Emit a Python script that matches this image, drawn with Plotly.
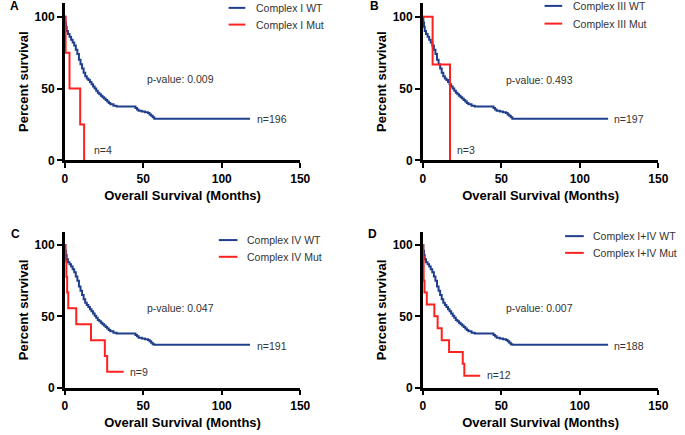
import plotly.graph_objects as go

W, H = 685, 435

# ---------------- data ----------------
panel_letters = ["A", "B", "C", "D"]
wt_names = ["Complex I WT", "Complex III WT", "Complex IV WT", "Complex I+IV WT"]
mut_names = ["Complex I Mut", "Complex III Mut", "Complex IV Mut", "Complex I+IV Mut"]
p_values = ["p-value: 0.009", "p-value: 0.493", "p-value: 0.047", "p-value: 0.007"]
n_wt = ["n=196", "n=197", "n=191", "n=188"]
n_mut = ["n=4", "n=3", "n=9", "n=12"]

wt_t = [0, 0.3, 0.7, 1.2, 2, 3, 4, 5, 6, 7, 8, 9, 10, 11, 12, 13, 14, 15, 16, 17,
        18, 19, 20, 21, 22, 23, 24, 25, 26, 27, 28, 29, 31, 33, 44, 45, 46, 47,
        49, 51, 53, 54, 55, 56, 57, 118]
wt_s_a = [100, 96, 93, 90, 88, 86, 84, 82, 80, 77, 74, 70, 67, 64, 61, 58.5, 57, 56,
          54.5, 53, 51.5, 50, 48.5, 47, 46, 45, 44, 43, 42, 41, 40, 39, 38, 37.5, 37.5,
          36.5, 35.5, 34.5, 34, 33.5, 33, 32, 31, 30, 29, 29]
wt_s_b = [100, 96, 93, 90, 88, 86, 84, 82, 80, 77, 74, 70, 67, 64, 61, 58.5, 57, 56,
          54.5, 53, 51.5, 50, 48.5, 47, 46, 45, 44, 43, 42, 41, 40, 39, 38, 37.5, 37.5,
          36.5, 35.5, 34.5, 34, 33.5, 33, 32, 31, 30, 29, 29]
wt_s_c = [100, 96, 93, 90, 88, 86.5, 85, 83, 81, 78, 75, 71, 68, 65, 62, 59.5, 58, 56.5,
          55, 53.5, 52, 50.5, 49, 47.5, 46.5, 45.5, 44.5, 43.5, 42.5, 41.5, 40.5, 39.5,
          38.5, 38, 38, 37, 36, 35, 34.5, 34, 33.5, 32.5, 31.5, 30.5, 30, 30]
wt_s_d = [100, 96, 93, 90, 88, 86.5, 85, 83, 81, 78, 75, 71, 68, 65, 62, 59.5, 58, 56.5,
          55, 53.5, 52, 50.5, 49, 47.5, 46.5, 45.5, 44.5, 43.5, 42.5, 41.5, 40.5, 39.5,
          38.5, 38, 38, 37, 36, 35, 34.5, 34, 33.5, 32.5, 31.5, 30.5, 30, 30]
wt_s = [wt_s_a, wt_s_b, wt_s_c, wt_s_d]

mut_t_a = [0, 0.5, 3, 9.8, 12.3]
mut_s_a = [100, 75, 50, 25, 0]
mut_t_b = [0, 6.2, 17.3]
mut_s_b = [100, 66.7, 0]
mut_t_c = [0, 0.4, 1.0, 1.5, 2.2, 7.3, 16.7, 25.5, 27, 37.5]
mut_s_c = [100, 88.9, 77.8, 66.7, 55.6, 44.4, 33.3, 22.2, 11.1, 11.1]
mut_t_d = [0, 0.2, 0.5, 1.0, 2.5, 7.3, 9.4, 12, 16.7, 25.4, 26.4, 36.5]
mut_s_d = [100, 91.7, 75, 66.7, 58.3, 50, 41.7, 33.3, 25, 16.7, 8.3, 8.3]
mut_t = [mut_t_a, mut_t_b, mut_t_c, mut_t_d]
mut_s = [mut_s_a, mut_s_b, mut_s_c, mut_s_d]

x_ticks = [0, 50, 100, 150]
y_ticks = [0, 50, 100]

# annotation anchor values (data units)
pval_pos = [(74, 57), (74, 56), (74, 56), (74, 56)]
nwt_pos = [(121, 29), (120.6, 29), (121, 29.5), (120.6, 29.5)]
nmut_pos = [(17.5, 7.5), (20.6, 7.5), (40, 11), (39.4, 9)]

# ---------------- layout geometry (pixels) ----------------
x_px = [(63, 303), (428, 668), (63, 303), (428, 668)]
y_px = [(163, 3), (163, 3), (394, 236), (394, 236)]
y_top = [109.6, 109.6, 109.0, 109.0]
letter_px = [(5, 6), (372, 6), (6, 238), (370, 238)]
leg_px = [  # line x0, x1, text x, y1, y2
    (230, 247, 256, 8, 25),
    (552, 570, 579, 6, 24),
    (220, 239, 247, 244, 261),
    (573, 592, 599, 240, 257),
]

BLUE = "#1F3F8C"
RED = "#FF2020"
TXT = "#333333"
FONT = "Liberation Sans, Arial, sans-serif"

fig = go.Figure()
layout = dict(
    width=W, height=H, margin=dict(l=0, r=0, t=0, b=0),
    paper_bgcolor="white", plot_bgcolor="white", showlegend=False,
    font=dict(family=FONT, color="black"),
)
annotations = []
shapes = []

for i in range(4):
    k = "" if i == 0 else str(i + 1)
    xa, ya = "x" + k, "y" + k
    fig.add_trace(go.Scatter(x=wt_t, y=wt_s[i], mode="lines", line=dict(color=BLUE, width=2, shape="hv"),
                             xaxis=xa, yaxis=ya, name=wt_names[i]))
    fig.add_trace(go.Scatter(x=mut_t[i], y=mut_s[i], mode="lines", line=dict(color=RED, width=2, shape="hv"),
                             xaxis=xa, yaxis=ya, name=mut_names[i]))
    x0, x1 = x_px[i]
    yb, yt = y_px[i]
    layout["xaxis" + k] = dict(
        domain=[x0 / W, x1 / W], range=[0, 150], anchor=ya,
        showline=True, linecolor="black", linewidth=2.5, mirror=False,
        showgrid=False, zeroline=False, ticks="outside", ticklen=5, tickwidth=2, tickcolor="black",
        tickvals=x_ticks, tickfont=dict(size=12, weight="bold", family=FONT, color="black"),
        title=dict(text="Overall Survival (Months)", font=dict(size=13, weight="bold", family=FONT), standoff=7),
    )
    layout["yaxis" + k] = dict(
        domain=[1 - yb / H, 1 - yt / H], range=[0, y_top[i]], anchor=xa,
        showline=True, linecolor="black", linewidth=2.5,
        showgrid=False, zeroline=False, ticks="outside", ticklen=5, tickwidth=2, tickcolor="black",
        tickvals=y_ticks, tickfont=dict(size=12, weight="bold", family=FONT, color="black"),
        title=dict(text="Percent survival", font=dict(size=13, weight="bold", family=FONT), standoff=4),
    )
    # panel letter
    lx, ly = letter_px[i]
    annotations.append(dict(text=panel_letters[i], x=lx / W, y=1 - ly / H, xref="paper", yref="paper",
                            xanchor="left", yanchor="middle", showarrow=False,
                            font=dict(size=12, weight="bold", family=FONT, color="black")))
    # legend
    l0, l1, tx, yl1, yl2 = leg_px[i]
    for yy, col, name in [(yl1, BLUE, wt_names[i]), (yl2, RED, mut_names[i])]:
        shapes.append(dict(type="line", xref="paper", yref="paper", x0=l0 / W, x1=l1 / W,
                           y0=1 - yy / H, y1=1 - yy / H, line=dict(color=col, width=2)))
        annotations.append(dict(text=name, x=tx / W, y=1 - yy / H, xref="paper", yref="paper",
                                xanchor="left", yanchor="middle", showarrow=False,
                                font=dict(size=10.5, family=FONT, color=TXT)))
    # p-value and n labels
    px_, py_ = pval_pos[i]
    annotations.append(dict(text=p_values[i], x=px_, y=py_, xref=xa, yref=ya, xanchor="center",
                            yanchor="middle", showarrow=False, font=dict(size=10.5, family=FONT, color=TXT)))
    nx, ny = nwt_pos[i]
    annotations.append(dict(text=n_wt[i], x=nx, y=ny, xref=xa, yref=ya, xanchor="left",
                            yanchor="middle", showarrow=False, font=dict(size=10.5, family=FONT, color=TXT)))
    mx, my = nmut_pos[i]
    annotations.append(dict(text=n_mut[i], x=mx, y=my, xref=xa, yref=ya, xanchor="left",
                            yanchor="middle", showarrow=False, font=dict(size=10.5, family=FONT, color=TXT)))

layout["annotations"] = annotations
layout["shapes"] = shapes
fig.update_layout(**layout)
fig.write_html("out.html", config={"displayModeBar": False},
               post_script="document.body.style.margin='0';document.body.style.overflow='hidden';")
